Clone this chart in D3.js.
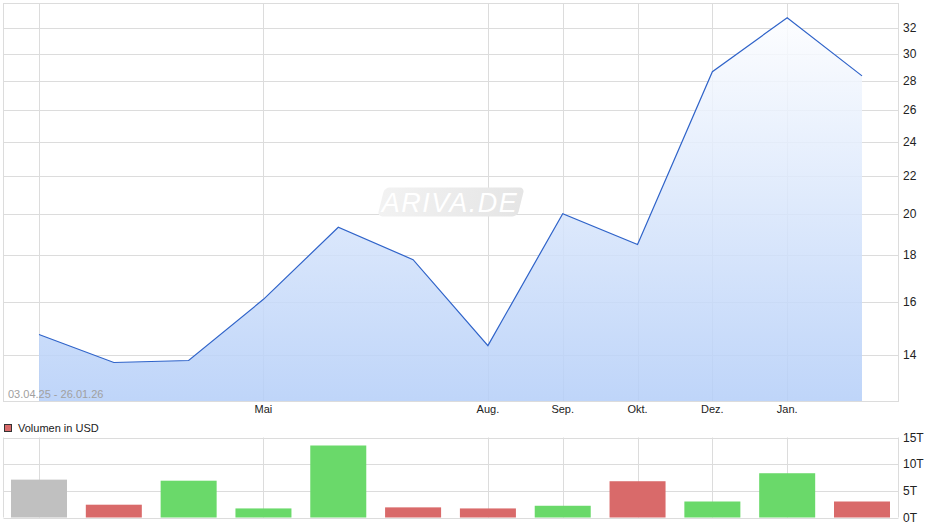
<!DOCTYPE html>
<html>
<head>
<meta charset="utf-8">
<script src="https://cdn.jsdelivr.net/npm/d3@7"></script>
<style>
  html, body { margin: 0; padding: 0; background: #fff; }
  svg { display: block; font-family: "Liberation Sans", Arial, sans-serif; }
</style>
</head>
<body>
<svg id="chart" width="940" height="526"></svg>
<script>
// ---- data ----
const points = [0, 1, 2, 3, 4, 5, 6, 7, 8, 9, 10, 11];
const prices = [14.73, 13.72, 13.79, 16.1, 19.32, 17.8, 14.32, 20.0, 18.5, 28.65, 32.85, 28.35];
const volumes = [7.1, 2.4, 6.9, 1.7, 13.5, 1.9, 1.7, 2.2, 6.8, 3.0, 8.3, 3.0];
const monthLabels = ["", "", "", "Mai", "", "", "Aug.", "Sep.", "Okt.", "Dez.", "Jan.", ""];
const gridIndices = [0, 3, 6, 7, 8, 9, 10];
const priceTicks = [14, 16, 18, 20, 22, 24, 26, 28, 30, 32];
const volumeTicks = [0, 5, 10, 15];
const volumeTickLabels = ["0T", "5T", "10T", "15T"];
const dateRange = "03.04.25 - 26.01.26";
const legendLabel = "Volumen in USD";

// ---- layout ----
const svg = d3.select("#chart");
const L = 3.5, R = 898.5;
const top1 = 3.5, bot1 = 401.5;
const top2 = 437.5, bot2 = 517.5;
const gridColor = "#dcdcdc";

const x = d3.scalePoint().domain(points).range([39, 862]);
const y = d3.scaleLog().domain([12.43, 34.05]).range([bot1, top1]);
const yv = d3.scaleLinear().domain([0, 15]).range([bot2, top2]);

// gradient
const defs = svg.append("defs");
const grad = defs.append("linearGradient").attr("id", "fillGrad")
  .attr("gradientUnits", "userSpaceOnUse")
  .attr("x1", 0).attr("x2", 0).attr("y1", top1).attr("y2", bot1);
grad.append("stop").attr("offset", "0%").attr("stop-color", "#ffffff");
grad.append("stop").attr("offset", "100%").attr("stop-color", "#b4cef8");

const wmGrad = defs.append("linearGradient").attr("id", "wmGrad")
  .attr("x1", 0).attr("x2", 1).attr("y1", 0).attr("y2", 0);
wmGrad.append("stop").attr("offset", "0%").attr("stop-color", "#f2f2f2");
wmGrad.append("stop").attr("offset", "100%").attr("stop-color", "#e5e5e5");

// ---- price panel ----
const g1 = svg.append("g");
g1.selectAll("line.h").data(priceTicks).join("line")
  .attr("x1", L).attr("x2", R)
  .attr("y1", d => Math.round(y(d)) + 0.5).attr("y2", d => Math.round(y(d)) + 0.5)
  .attr("stroke", gridColor).attr("stroke-width", 1);
g1.selectAll("line.v").data(gridIndices).join("line")
  .attr("x1", d => Math.round(x(d)) + 0.5).attr("x2", d => Math.round(x(d)) + 0.5)
  .attr("y1", top1).attr("y2", bot1)
  .attr("stroke", gridColor).attr("stroke-width", 1);

// watermark
const wm = g1.append("g").attr("transform", "translate(451,202)");
wm.append("rect").attr("x", -70).attr("y", -14.5).attr("width", 140).attr("height", 29)
  .attr("rx", 5).attr("fill", "url(#wmGrad)").attr("transform", "skewX(-14)");
wm.append("text").attr("x", -1).attr("y", 9.5).attr("text-anchor", "middle")
  .attr("font-size", 27).attr("font-style", "italic").attr("fill", "#ffffff")
  .attr("letter-spacing", 1.5).text("ARIVA.DE");

// area + line
const area = d3.area().x(d => x(d)).y0(bot1).y1((d, i) => y(prices[i]));
g1.append("path").datum(points).attr("d", area).attr("fill", "url(#fillGrad)").attr("fill-opacity", 0.86);
const line = d3.line().x(d => x(d)).y((d, i) => y(prices[i]));
g1.append("path").datum(points).attr("d", line).attr("fill", "none")
  .attr("stroke", "#2f63c9").attr("stroke-width", 1.2);

// frame
g1.append("rect").attr("x", L).attr("y", top1).attr("width", R - L).attr("height", bot1 - top1)
  .attr("fill", "none").attr("stroke", gridColor);

// y labels
g1.selectAll("text.yl").data(priceTicks).join("text")
  .attr("x", 903).attr("y", d => y(d) + 4)
  .attr("font-size", 12).attr("fill", "#222").text(d => d);

// x labels
g1.selectAll("text.xl").data(points.filter(i => monthLabels[i] !== "")).join("text")
  .attr("x", d => x(d)).attr("y", 413).attr("text-anchor", "middle")
  .attr("font-size", 11).attr("fill", "#222").text(d => monthLabels[d]);

// date range
g1.append("text").attr("x", 8).attr("y", 398).attr("font-size", 11)
  .attr("fill", "#a0a0a0").text(dateRange);

// ---- volume panel ----
const g2 = svg.append("g");
g2.append("rect").attr("x", 4.5).attr("y", 424.5).attr("width", 7).attr("height", 7)
  .attr("fill", "#d96a6a").attr("stroke", "#333").attr("stroke-width", 1);
g2.append("text").attr("x", 18).attr("y", 432).attr("font-size", 11).attr("fill", "#222").text(legendLabel);

g2.selectAll("line.h").data(volumeTicks).join("line")
  .attr("x1", L).attr("x2", R)
  .attr("y1", d => Math.round(yv(d)) + 0.5).attr("y2", d => Math.round(yv(d)) + 0.5)
  .attr("stroke", gridColor);
g2.selectAll("line.v").data(gridIndices).join("line")
  .attr("x1", d => Math.round(x(d)) + 0.5).attr("x2", d => Math.round(x(d)) + 0.5)
  .attr("y1", top2).attr("y2", bot2).attr("stroke", gridColor);
g2.append("line").attr("x1", L).attr("x2", L).attr("y1", top2).attr("y2", bot2).attr("stroke", gridColor);
g2.append("line").attr("x1", R).attr("x2", R).attr("y1", top2).attr("y2", bot2).attr("stroke", gridColor);

const barW = 56;
g2.selectAll("rect.bar").data(points).join("rect")
  .attr("x", d => x(d) - barW / 2)
  .attr("y", (d, i) => yv(volumes[i]))
  .attr("width", barW)
  .attr("height", (d, i) => yv(0) - yv(volumes[i]))
  .attr("fill", (d, i) => i === 0 ? "#c0c0c0" : (prices[i] >= prices[i - 1] ? "#6ad96a" : "#d96a6a"));

g2.selectAll("text.vl").data(volumeTicks).join("text")
  .attr("x", 903).attr("y", d => yv(d) + 4)
  .attr("font-size", 12).attr("fill", "#222").text((d, i) => volumeTickLabels[i]);
</script>
</body>
</html>
